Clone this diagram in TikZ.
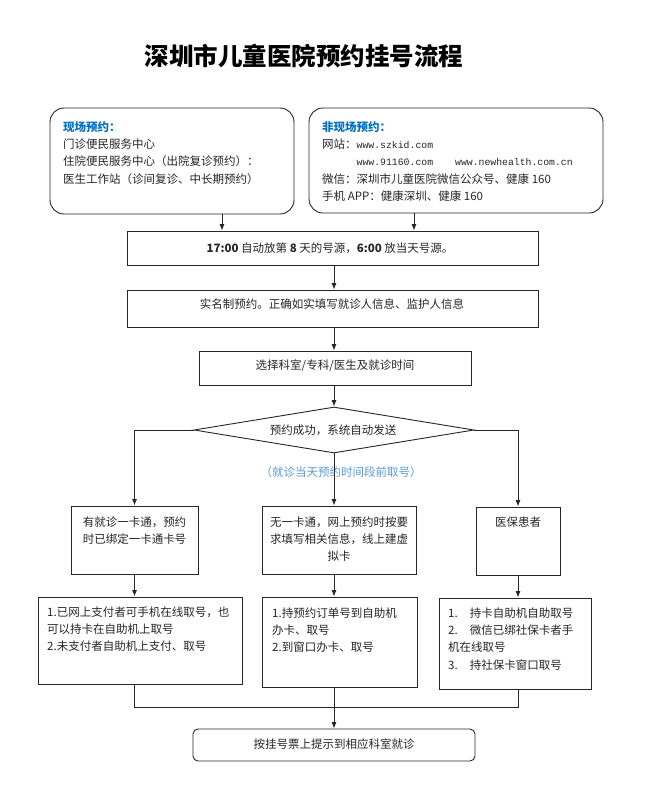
\documentclass[tikz,border=0pt]{standalone}
\usepackage{fontspec}
\setmainfont{Noto Sans CJK SC}
\newfontfamily\urlfont{Liberation Mono}
\usetikzlibrary{arrows.meta,shapes.geometric}
\definecolor{txt}{HTML}{262626}
\definecolor{headblue}{HTML}{0070C0}
\definecolor{noteblue}{HTML}{5B9BD5}
\begin{document}
\begin{tikzpicture}[x=1pt,y=-1pt,
  box/.style={draw=black!85, line width=0.9pt, inner sep=0pt},
  rbox/.style={box, rounded corners=14pt},
  tx/.style={inner sep=0pt, text=txt, font=\fontsize{11.5}{17.3}\selectfont},
  arr/.style={draw=black!85, line width=0.8pt, -{Latex[length=6.5pt,width=5pt]}},
  ln/.style={draw=black!85, line width=0.8pt}]
\fill[white] (0,0) rectangle (645,788);
\useasboundingbox (0,0) rectangle (645,788);

% title
\node[inner sep=0pt, font=\fontsize{24.5}{28}\selectfont\bfseries, text=black] (title) at (304,56) {深圳市儿童医院预约挂号流程};

% boxes
\node[rbox, minimum width=244pt, minimum height=106pt] (onsite) at (172,161) {};
\node[rbox, minimum width=294pt, minimum height=105pt] (offsite) at (456,160.5) {};
\node[box, minimum width=411pt, minimum height=34pt] (b1) at (332.5,248) {};
\node[box, minimum width=411pt, minimum height=37pt] (b2) at (332.5,308.5) {};
\node[box, minimum width=272pt, minimum height=34pt] (b3) at (335,368) {};
\node[box, diamond, minimum width=280pt, minimum height=46pt] (dia) at (334,430) {};
\node[box, minimum width=127pt, minimum height=68pt] (m1) at (134.5,540) {};
\node[box, minimum width=154pt, minimum height=68pt] (m2) at (339,540) {};
\node[box, minimum width=84pt, minimum height=68pt] (m3) at (518,541) {};
\node[box, minimum width=204pt, minimum height=87pt] (l1) at (140,640.5) {};
\node[box, minimum width=155pt, minimum height=90pt] (l2) at (339.5,642) {};
\node[box, minimum width=152pt, minimum height=91pt] (l3) at (515,643.5) {};
\node[box, rounded corners=5pt, minimum width=282pt, minimum height=32pt] (fin) at (334,745) {};

% texts
\node[tx, anchor=north west, align=left] (t-onsite) at (63,121.2) {%
  {\color{headblue}\bfseries 现场预约：}\\
  门诊便民服务中心\\
  住院便民服务中心（出院复诊预约）：\\
  医生工作站（诊间复诊、中长期预约）};
\node[tx, anchor=north west, align=left] (t-offsite) at (322,121.2) {%
  {\color{headblue}\bfseries 非现场预约：}\\
  网站：{\urlfont\fontsize{9.8}{17.3}\selectfont www.szkid.com}\\
  \hspace*{34.5pt}{\urlfont\fontsize{9.8}{17.3}\selectfont www.91160.com}\hspace{22pt}{\urlfont\fontsize{9.8}{17.3}\selectfont www.newhealth.com.cn}\\
  微信：深圳市儿童医院微信公众号、健康 160\\
  手机 APP：健康深圳、健康 160};
\node[tx] (t-b1) at (330,248) {{\bfseries 17:00} 自动放第 {\bfseries 8} 天的号源，{\bfseries 6:00} 放当天号源。};
\node[tx] (t-b2) at (332,304) {实名制预约。正确如实填写就诊人信息、监护人信息};
\node[tx] (t-b3) at (335,366) {选择科室/专科/医生及就诊时间};
\node[tx] (t-dia) at (333,430) {预约成功，系统自动发送};
\node[tx, text=noteblue] (t-note) at (341,472) {（就诊当天预约时间段前取号）};
\node[tx, anchor=north, align=center] (t-m1) at (134.5,516.2) {有就诊一卡通，预约\\时已绑定一卡通卡号};
\node[tx, anchor=north, align=center] (t-m2) at (339,516.2) {无一卡通，网上预约时按要\\求填写相关信息，线上建虚\\拟卡};
\node[tx, anchor=north] (t-m3) at (518,516.2) {医保患者};
\node[tx, anchor=north west, align=left] (t-l1) at (47,606.5) {%
  1.已网上支付者可手机在线取号，也\\
  可以持卡在自助机上取号\\
  2.未支付者自助机上支付、取号};
\node[tx, anchor=north west, align=left] (t-l2) at (272,607.5) {%
  1.持预约订单号到自助机\\
  办卡、取号\\
  2.到窗口办卡、取号};
\node[tx, anchor=north west, align=left] (t-l3) at (448,607.5) {%
  1.\hspace{12pt}持卡自助机自助取号\\
  2.\hspace{12pt}微信已绑社保卡者手\\
  机在线取号\\
  3.\hspace{12pt}持社保卡窗口取号};
\node[tx] (t-fin) at (334,744) {按挂号票上提示到相应科室就诊};

% connectors
\coordinate (xa) at (222,0);
\coordinate (xb) at (414,0);
\coordinate (xc) at (334,0);
\coordinate (ym) at (0,707);
\draw[arr] (onsite.south -| xa) -- (b1.north -| xa);
\draw[arr] (offsite.south -| xb) -- (b1.north -| xb);
\draw[arr] (b1.south -| xc) -- (b2.north -| xc);
\draw[arr] (b2.south -| xc) -- (b3.north -| xc);
\draw[arr] (b3.south -| xc) -- (dia.north);
\draw[arr] (dia.west) -| (m1.north);
\draw[arr] (dia.east) -| (m3.north);
\draw[arr] (dia.south) -- (m2.north -| xc);
\draw[arr] (m1.south) -- (m1.south |- l1.north);
\draw[arr] (m2.south -| xc) -- (l2.north -| xc);
\draw[arr] (m3.south) -- (m3.south |- l3.north);
\draw[ln] (m1.south |- l1.south) -- (m1.south |- ym) -- (m3.south |- ym) -- (m3.south |- l3.south);
\draw[arr] (l2.south -| xc) -- (fin.north -| xc);
\end{tikzpicture}
\end{document}
